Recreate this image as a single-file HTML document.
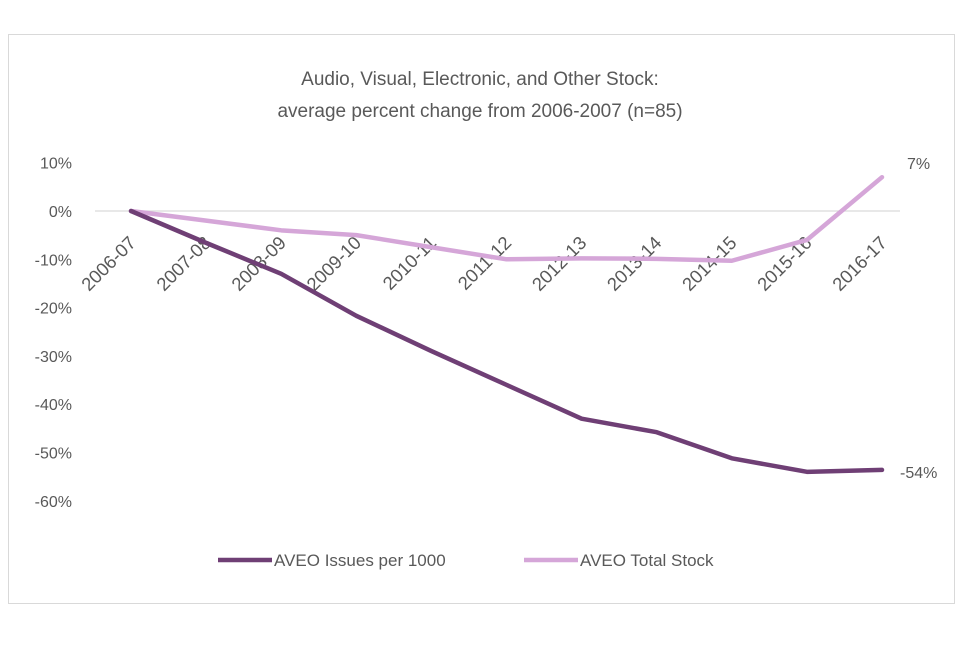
<!DOCTYPE html>
<html><head><meta charset="utf-8"><style>
body{margin:0;background:#fff;font-family:"Liberation Sans",sans-serif}
svg text{font-family:"Liberation Sans",sans-serif;fill:#595959}
</style></head><body>
<svg width="960" height="640">
<rect x="8.5" y="34.5" width="946" height="569" fill="#fff" stroke="#d9d9d9"/>
<text x="480" y="85" text-anchor="middle" font-size="19">Audio, Visual, Electronic, and Other Stock:</text>
<text x="480" y="117" text-anchor="middle" font-size="19">average percent change from 2006-2007 (n=85)</text>
<g id="g"></g>
</svg>
<script>
const categories=["2006-07","2007-08","2008-09","2009-10","2010-11","2011-12","2012-13","2013-14","2014-15","2015-16","2016-17"];
const issues=[0,-6.6,-13,-21.7,-29,-36,-43,-45.8,-51.2,-54,-53.6];
const stock=[0,-2,-4,-5,-7.5,-10,-9.8,-9.9,-10.3,-6,7];
const yTicks=[10,0,-10,-20,-30,-40,-50,-60];
const ns="http://www.w3.org/2000/svg",g=document.getElementById('g');
const x=i=>131+i*75.1, y=v=>211-v*4.83;
function mk(t,a,txt){const e=document.createElementNS(ns,t);for(const k in a)e.setAttribute(k,a[k]);if(txt!=null)e.textContent=txt;g.appendChild(e);return e;}
let l=mk('line',{x1:95,x2:900,y1:y(0),y2:y(0),stroke:'#d9d9d9','stroke-width':1.2});


yTicks.forEach(v=>{const t=mk('text',{x:72,y:y(v)+6,'text-anchor':'end','font-size':16},v+'%');

});
categories.forEach((c,i)=>{const t=mk('text',{x:0,y:0,'text-anchor':'end','font-size':18.5,transform:`translate(${x(i)+6},${y(0)+33}) rotate(-45)`},c);

});
function line(d,col,name){const p=mk('polyline',{points:d.map((v,i)=>x(i)+','+y(v)).join(' '),fill:'none',stroke:col,'stroke-width':4.5,'stroke-linejoin':'round','stroke-linecap':'round'});

}
line(stock,'#d5a6d8','series-total-stock');
line(issues,'#6f3f75','series-issues');
let a=mk('text',{x:x(10)+25,y:y(stock[10])-8,'font-size':16,fill:'#404040'},Math.round(stock[10])+'%');


let b=mk('text',{x:x(10)+18,y:y(issues[10])+8,'font-size':16,fill:'#404040'},Math.round(issues[10])+'%');


let l1=mk('line',{x1:218,x2:272,y1:560,y2:560,stroke:'#6f3f75','stroke-width':4.5});


let t1=mk('text',{x:274,y:566,'font-size':17},'AVEO Issues per 1000');


let l2=mk('line',{x1:524,x2:578,y1:560,y2:560,stroke:'#d5a6d8','stroke-width':4.5});


let t2=mk('text',{x:580,y:566,'font-size':17},'AVEO Total Stock');


</script>
</body></html>
